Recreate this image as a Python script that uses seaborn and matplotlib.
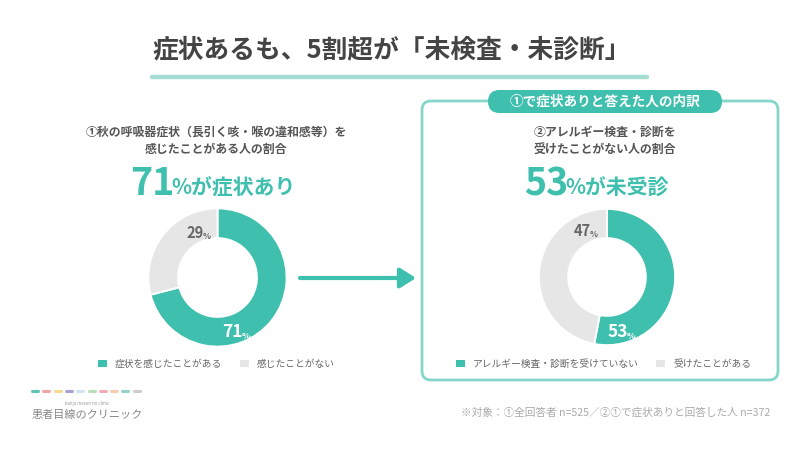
import matplotlib
matplotlib.use("Agg")
import matplotlib.pyplot as plt
import seaborn as sns
from matplotlib.patches import FancyBboxPatch, FancyArrowPatch

# ---- data ----
title = "症状あるも、5割超が「未検査・未診断」"
left_sub = ["①秋の呼吸器症状（長引く咳・喉の違和感等）を", "感じたことがある人の割合"]
left_labels = ["症状を感じたことがある", "感じたことがない"]
left_values = [71, 29]
left_head_num = "71"
left_head_rest = "%が症状あり"

box_header = "①で症状ありと答えた人の内訳"
right_sub = ["②アレルギー検査・診断を", "受けたことがない人の割合"]
right_labels = ["アレルギー検査・診断を受けていない", "受けたことがある"]
right_values = [53, 47]
right_head_num = "53"
right_head_rest = "%が未受診"

footnote = "※対象：①全回答者 n=525／②①で症状ありと回答した人 n=372"
logo_text = "患者目線のクリニック"
logo_small = "kanja mesen no clinic"
logo_colors = ['#5cc4b4', '#f0a5a5', '#f2dc8e', '#a8a0d2', '#cfe3f2',
               '#b8e0b4', '#f4aabb', '#f6cdb0', '#93d3ca', '#cccccc']

TEAL = "#3fbfae"
GRAY = "#e6e6e6"
LINE_TEAL = "#86d6cb"

sns.set_theme(style="white")
plt.rcParams['font.family'] = ['Noto Sans CJK JP', 'DejaVu Sans']
palette = sns.color_palette([TEAL, GRAY])

W, H = 800, 450
fig = plt.figure(figsize=(8, 4.5), dpi=100)
fig.patch.set_facecolor("white")
bg = fig.add_axes([0, 0, 1, 1])
bg.set_xlim(0, W)
bg.set_ylim(H, 0)
bg.axis("off")

# title
bg.text(392, 50, title, ha="center", va="center", fontsize=18.5,
        fontweight="bold", color="#444444")
bg.plot([152, 647], [77, 77], color="#a6ddd3", lw=3.2, solid_capstyle="round")

# right box
box = FancyBboxPatch((422, 101), 356, 279, boxstyle="round,pad=0,rounding_size=9",
                     fill=False, edgecolor=LINE_TEAL, lw=2.0)
bg.add_patch(box)
pill = FancyBboxPatch((488, 90), 234, 23, boxstyle="round,pad=0,rounding_size=11.5",
                      facecolor=TEAL, edgecolor="none")
bg.add_patch(pill)
bg.text(605, 101.5, box_header, ha="center", va="center", fontsize=9.8,
        fontweight="bold", color="white")

# subtitles
for i, line in enumerate(left_sub):
    bg.text(216, 132 + 17 * i, line, ha="center", va="center", fontsize=8.6,
            fontweight="bold", color="#555555")
for i, line in enumerate(right_sub):
    bg.text(605, 132 + 17 * i, line, ha="center", va="center", fontsize=8.6,
            fontweight="bold", color="#555555")

# headlines
bg.text(174, 195, left_head_num, ha="right", va="baseline", fontsize=27,
        fontweight="bold", color=TEAL)
bg.text(171, 195, left_head_rest, ha="left", va="baseline", fontsize=15,
        fontweight="bold", color=TEAL)
bg.text(568, 195, right_head_num, ha="right", va="baseline", fontsize=27,
        fontweight="bold", color=TEAL)
bg.text(565, 195, right_head_rest, ha="left", va="baseline", fontsize=15,
        fontweight="bold", color=TEAL)

# arrow
arr = FancyArrowPatch((300, 278), (416, 278), arrowstyle="-|>,head_length=9.5,head_width=6",
                      color=TEAL, lw=3, mutation_scale=1, shrinkA=0, shrinkB=0)
bg.add_patch(arr)

# donuts
def donut(cx, cy, r, values, big_pos, small_pos):
    ax = fig.add_axes([(cx - r) / W, (H - cy - r) / H, 2 * r / W, 2 * r / H])
    wedges, _ = ax.pie(values, colors=palette, startangle=90, counterclock=False,
                       radius=1, wedgeprops=dict(width=0.43, edgecolor="white", linewidth=1.4))
    ax.set_xlim(-1.02, 1.02)
    ax.set_ylim(-1.02, 1.02)
    ax.set_aspect("equal")
    ax.axis("off")
    ax.text(big_pos[0], big_pos[1], str(values[0]), ha="right", va="center",
            fontsize=12.5, fontweight="bold", color="white")
    ax.text(big_pos[0] - 0.02, big_pos[1] - 0.06, "%", ha="left", va="center",
            fontsize=6.5, fontweight="bold", color="white")
    ax.text(small_pos[0], small_pos[1], str(values[1]), ha="right", va="center",
            fontsize=10.5, fontweight="bold", color="#666666")
    ax.text(small_pos[0] - 0.02, small_pos[1] - 0.05, "%", ha="left", va="center",
            fontsize=6, fontweight="bold", color="#666666")
    return ax, wedges

axl, wl = donut(217.5, 277.5, 70.5, left_values, (0.37, -0.79), (-0.2, 0.65))
axr, wr = donut(607, 277, 69.5, right_values, (0.31, -0.81), (-0.23, 0.67))

legend_kw = dict(ncol=2, frameon=False, fontsize=7, handlelength=1.13, handleheight=1.13,
                 handletextpad=0.7, columnspacing=1.75, borderpad=0, loc="center")
legL = fig.legend(wl, left_labels, bbox_to_anchor=(216 / W, 1 - 364 / H), **legend_kw)
legR = fig.legend(wr, right_labels, bbox_to_anchor=(603 / W, 1 - 364 / H), **legend_kw)
for leg in (legL, legR):
    for t in leg.get_texts():
        t.set_color("#666666")

# footnote
bg.text(770, 412, footnote, ha="right", va="center", fontsize=7.7, color="#aaaaaa")

# logo
for i, c in enumerate(logo_colors):
    x0 = 32 + i * 11.3
    bg.plot([x0, x0 + 6], [391, 391], color=c, lw=2.2, solid_capstyle="round")
bg.text(87, 403, logo_small, ha="center", va="center", fontsize=3.2, color="#999999")
bg.text(32, 415, logo_text, ha="left", va="center", fontsize=8, color="#888888")

fig.savefig("out.png", dpi=100, facecolor="white")
